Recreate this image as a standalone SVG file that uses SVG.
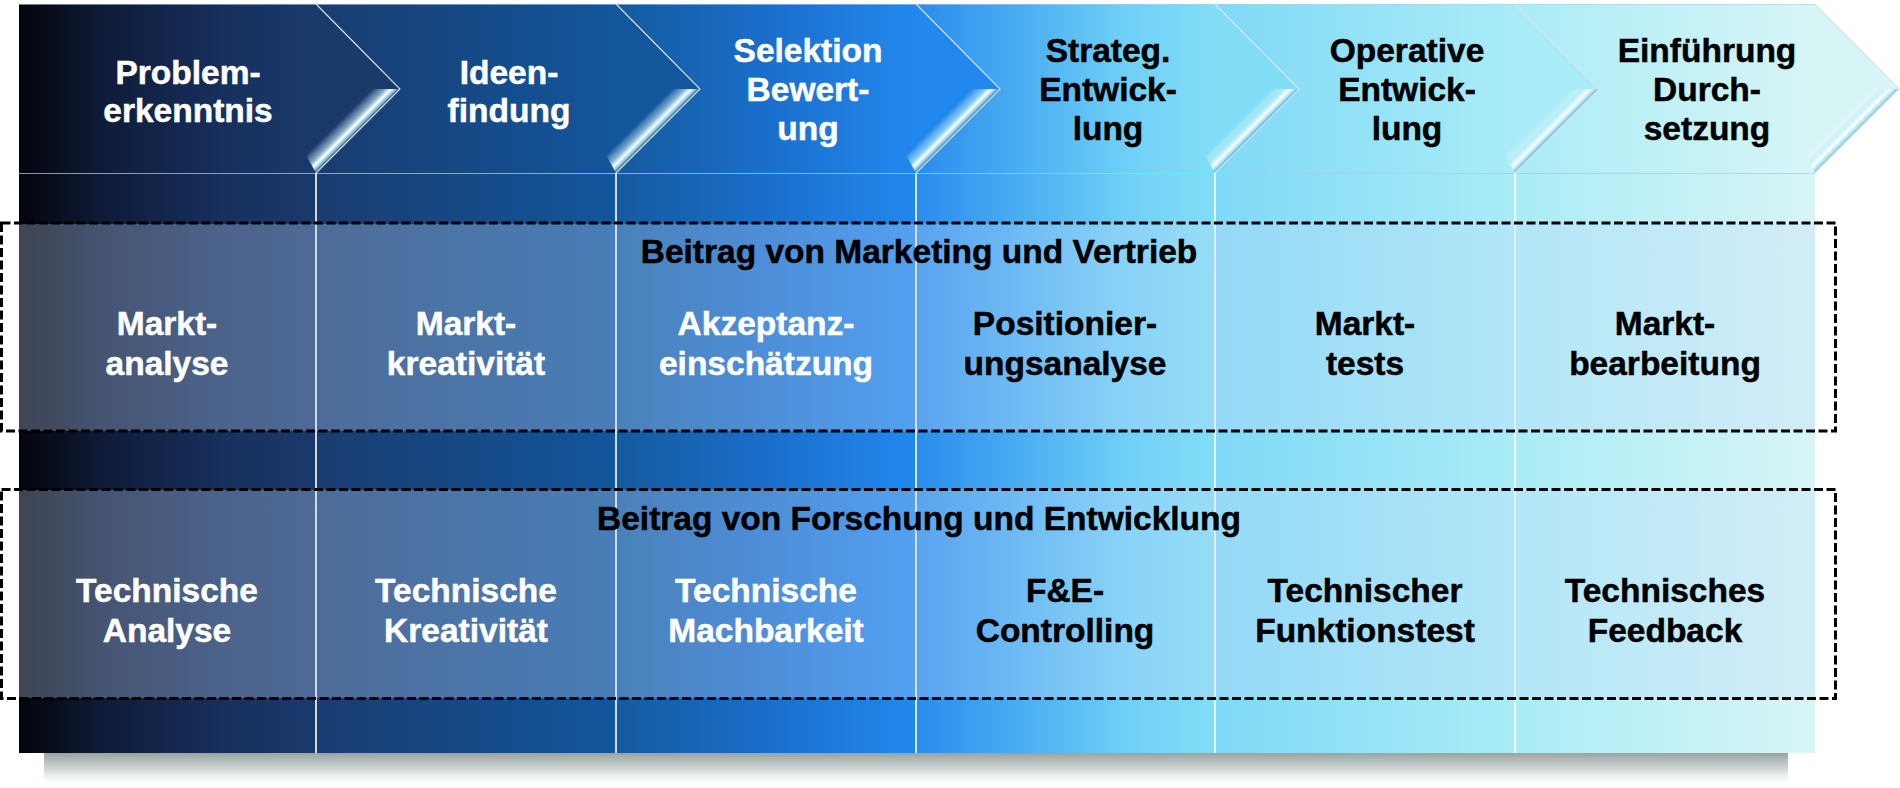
<svg xmlns="http://www.w3.org/2000/svg" width="1900" height="788" viewBox="0 0 1900 788">
<defs>
<style>
text{font-family:"Liberation Sans",Arial,Helvetica,sans-serif;font-weight:bold;font-size:33.5px;text-anchor:middle}
.w{fill:#ffffff;stroke:#ffffff;stroke-width:0.5}
.k{fill:#000000;stroke:#000000;stroke-width:0.5}
.edge{fill:none;stroke:#d8e4ea;stroke-width:1.1}
.div{stroke:#ffffff;stroke-width:1.6}
.band{fill:#c8dcf8;fill-opacity:0.3}
.frame{fill:none;stroke:#000000;stroke-width:3;stroke-dasharray:9 3.5}
.glint{fill:url(#glint)}
</style>
<linearGradient id="g0" gradientUnits="userSpaceOnUse" x1="19" y1="0" x2="316" y2="0">
<stop offset="0" stop-color="#04040c"/><stop offset="0.3" stop-color="#0f1c3a"/><stop offset="0.7" stop-color="#17305e"/><stop offset="1" stop-color="#1a3a6c"/>
</linearGradient>
<linearGradient id="g1" gradientUnits="userSpaceOnUse" x1="316" y1="0" x2="616" y2="0">
<stop offset="0" stop-color="#1a3c6f"/><stop offset="1" stop-color="#12569c"/>
</linearGradient>
<linearGradient id="g2" gradientUnits="userSpaceOnUse" x1="616" y1="0" x2="916" y2="0">
<stop offset="0" stop-color="#155a9e"/><stop offset="0.5" stop-color="#1a6ecb"/><stop offset="1" stop-color="#2288ee"/>
</linearGradient>
<linearGradient id="g3" gradientUnits="userSpaceOnUse" x1="916" y1="0" x2="1215" y2="0">
<stop offset="0" stop-color="#2a8cec"/><stop offset="0.35" stop-color="#4aaef2"/><stop offset="0.7" stop-color="#6fcff6"/><stop offset="1" stop-color="#82def6"/>
</linearGradient>
<linearGradient id="g4" gradientUnits="userSpaceOnUse" x1="1215" y1="0" x2="1515" y2="0">
<stop offset="0" stop-color="#7fd9f6"/><stop offset="1" stop-color="#aaecf8"/>
</linearGradient>
<linearGradient id="g5" gradientUnits="userSpaceOnUse" x1="1515" y1="0" x2="1815" y2="0">
<stop offset="0" stop-color="#aaecf6"/><stop offset="1" stop-color="#d8f5f6"/>
</linearGradient>
<linearGradient id="glint" gradientUnits="userSpaceOnUse" x1="56" y1="89" x2="70" y2="103">
<stop offset="0" stop-color="#ffffff" stop-opacity="0"/>
<stop offset="0.45" stop-color="#bff0ff" stop-opacity="0.6"/>
<stop offset="0.68" stop-color="#ffffff" stop-opacity="1"/>
<stop offset="0.85" stop-color="#aee6f6" stop-opacity="0.8"/>
<stop offset="1" stop-color="#3c78a8" stop-opacity="0.35"/>
</linearGradient>
<linearGradient id="shadow" x1="0" y1="0" x2="0" y2="1">
<stop offset="0" stop-color="#98a4a2"/><stop offset="0.5" stop-color="#d4dad9"/><stop offset="1" stop-color="#ffffff" stop-opacity="0"/>
</linearGradient>
<polygon id="gl" class="glint" points="56,89 84,89 0,173 -10,155"/>
</defs>
<rect x="0" y="0" width="1900" height="788" fill="#ffffff"/>
<rect x="44" y="753" width="1744" height="34" fill="url(#shadow)"/>

<g id="phase-1">
<path d="M19,4 L316,4 L400,89 L316,173 L316,753 L19,753 Z" fill="url(#g0)"/>
<text class="w"><tspan x="188" y="84">Problem-</tspan><tspan x="188" y="122">erkenntnis</tspan></text>
</g>
<g id="phase-2">
<path d="M316,4 L616,4 L700,89 L616,173 L616,753 L316,753 L316,173 L400,89 Z" fill="url(#g1)"/>
<text class="w"><tspan x="509" y="84">Ideen-</tspan><tspan x="509" y="122">findung</tspan></text>
</g>
<g id="phase-3">
<path d="M616,4 L916,4 L1000,89 L916,173 L916,753 L616,753 L616,173 L700,89 Z" fill="url(#g2)"/>
<text class="w"><tspan x="808" y="62">Selektion</tspan><tspan x="808" y="101">Bewert-</tspan><tspan x="808" y="140">ung</tspan></text>
</g>
<g id="phase-4">
<path d="M916,4 L1215,4 L1299,89 L1215,173 L1215,753 L916,753 L916,173 L1000,89 Z" fill="url(#g3)"/>
<text class="k"><tspan x="1108" y="62">Strateg.</tspan><tspan x="1108" y="101">Entwick-</tspan><tspan x="1108" y="140">lung</tspan></text>
</g>
<g id="phase-5">
<path d="M1215,4 L1515,4 L1599,89 L1515,173 L1515,753 L1215,753 L1215,173 L1299,89 Z" fill="url(#g4)"/>
<text class="k"><tspan x="1407" y="62">Operative</tspan><tspan x="1407" y="101">Entwick-</tspan><tspan x="1407" y="140">lung</tspan></text>
</g>
<g id="phase-6">
<path d="M1515,4 L1815,4 L1899,89 L1815,173 L1815,753 L1515,753 L1515,173 L1599,89 Z" fill="url(#g5)"/>
<text class="k"><tspan x="1707" y="62">Einführung</tspan><tspan x="1707" y="101">Durch-</tspan><tspan x="1707" y="140">setzung</tspan></text>
</g>

<g id="decoration">
<line x1="19" y1="4.5" x2="1815" y2="4.5" stroke="#a8d0ea" stroke-opacity="0.6" stroke-width="1"/>
<line x1="19" y1="173.5" x2="1815" y2="173.5" stroke="#a8cce4" stroke-opacity="0.75" stroke-width="1"/>
<line class="div" x1="316" y1="173" x2="316" y2="753"/>
<line class="div" x1="616" y1="173" x2="616" y2="753"/>
<line class="div" x1="916" y1="173" x2="916" y2="753"/>
<line class="div" x1="1215" y1="173" x2="1215" y2="753"/>
<line class="div" x1="1515" y1="173" x2="1515" y2="753"/>
<use href="#gl" x="316"/>
<use href="#gl" x="616"/>
<use href="#gl" x="916"/>
<use href="#gl" x="1215"/>
<use href="#gl" x="1515"/>
<use href="#gl" x="1815"/>
<polyline class="edge" points="316,4 400,89 316,173"/>
<polyline class="edge" points="616,4 700,89 616,173"/>
<polyline class="edge" points="916,4 1000,89 916,173"/>
<polyline class="edge" points="1215,4 1299,89 1215,173"/>
<polyline class="edge" points="1515,4 1599,89 1515,173"/>
<polyline class="edge" points="1815,4 1899,89 1815,173" stroke="#a9bcc2"/>
</g>

<g id="row-marketing">
<rect class="band" x="19" y="224" width="1796" height="207"/>
<rect class="frame" x="1.5" y="223" width="1834" height="208"/>
<text class="k" x="919" y="263">Beitrag von Marketing und Vertrieb</text>
</g>
<g id="row-fe">
<rect class="band" x="19" y="490" width="1796" height="208"/>
<rect class="frame" x="1.5" y="489.5" width="1834" height="209"/>
<text class="k" x="919" y="530">Beitrag von Forschung und Entwicklung</text>
</g>

<g id="mk-1"><text class="w"><tspan x="167" y="335">Markt-</tspan><tspan x="167" y="375">analyse</tspan></text></g>
<g id="mk-2"><text class="w"><tspan x="466" y="335">Markt-</tspan><tspan x="466" y="375">kreativität</tspan></text></g>
<g id="mk-3"><text class="w"><tspan x="766" y="335">Akzeptanz-</tspan><tspan x="766" y="375">einschätzung</tspan></text></g>
<g id="mk-4"><text class="k"><tspan x="1065" y="335">Positionier-</tspan><tspan x="1065" y="375">ungsanalyse</tspan></text></g>
<g id="mk-5"><text class="k"><tspan x="1365" y="335">Markt-</tspan><tspan x="1365" y="375">tests</tspan></text></g>
<g id="mk-6"><text class="k"><tspan x="1665" y="335">Markt-</tspan><tspan x="1665" y="375">bearbeitung</tspan></text></g>

<g id="fe-1"><text class="w"><tspan x="167" y="602">Technische</tspan><tspan x="167" y="642">Analyse</tspan></text></g>
<g id="fe-2"><text class="w"><tspan x="466" y="602">Technische</tspan><tspan x="466" y="642">Kreativität</tspan></text></g>
<g id="fe-3"><text class="w"><tspan x="766" y="602">Technische</tspan><tspan x="766" y="642">Machbarkeit</tspan></text></g>
<g id="fe-4"><text class="k"><tspan x="1065" y="602">F&amp;E-</tspan><tspan x="1065" y="642">Controlling</tspan></text></g>
<g id="fe-5"><text class="k"><tspan x="1365" y="602">Technischer</tspan><tspan x="1365" y="642">Funktionstest</tspan></text></g>
<g id="fe-6"><text class="k"><tspan x="1665" y="602">Technisches</tspan><tspan x="1665" y="642">Feedback</tspan></text></g>

<g id="connectors"/>
</svg>
